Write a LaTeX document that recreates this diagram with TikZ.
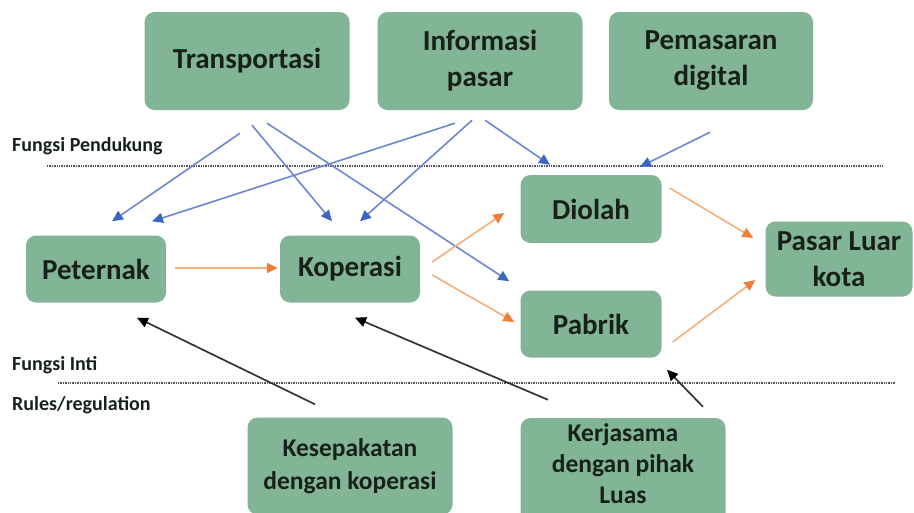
\documentclass[tikz,border=0pt]{standalone}
\usepackage{fontspec}
\setmainfont{Carlito}
\usetikzlibrary{arrows.meta}

\definecolor{boxgreen}{rgb}{0.510000, 0.710000, 0.590000}
\definecolor{boxtext}{rgb}{0.090000, 0.130000, 0.100000}
\definecolor{bluetip}{rgb}{0.230000, 0.400000, 0.770000}
\definecolor{blueline}{rgb}{0.420000, 0.530000, 0.820000}
\definecolor{orangetip}{rgb}{0.930000, 0.500000, 0.220000}
\definecolor{orangeline}{rgb}{0.960000, 0.680000, 0.480000}
\definecolor{sepline}{rgb}{0.330000, 0.330000, 0.330000}

\tikzset{
  box/.style={fill=boxgreen, rounded corners=10pt, text=boxtext, align=center,
    font=\fontsize{29}{36}\selectfont\bfseries, inner sep=0pt},
  topbox/.style={box, minimum width=205pt, minimum height=98pt},
  midbox/.style={box, minimum width=140pt, minimum height=67pt},
  lowbox/.style={box, minimum width=205pt, minimum height=97pt,
    font=\fontsize{25.5}{33}\selectfont\bfseries},
  sidelabel/.style={anchor=west, text=boxtext, font=\fontsize{20}{24}\selectfont\bfseries, inner sep=0pt},
  sepdots/.style={sepline, line width=2.8pt, dash pattern=on 1.4pt off 1pt},
  bluearrow/.style={blueline, line width=1.6pt, -{Triangle[length=11pt, width=10pt, color=bluetip]}},
  orangearrow/.style={orangeline, line width=1.6pt, -{Triangle[length=11pt, width=10pt, color=orangetip]}},
  blackarrow/.style={black!80, line width=1.7pt, -{Triangle[length=11pt, width=10pt, color=black]}}
}

\begin{document}
\begin{tikzpicture}[x=1pt, y=-1pt]
\useasboundingbox (0,0) rectangle (914,512);
\clip (0,0) rectangle (914,512);

% supporting functions
\node[topbox] (transport) at (247,61) {Transportasi};
\node[topbox] (infopasar) at (480,61) {Informasi\\pasar};
\node[topbox, minimum width=204pt] (pemasaran) at (711,61) {Pemasaran\\digital};

% core chain
\node[midbox] (peternak) at (96,269) {Peternak};
\node[midbox] (koperasi) at (350,269) {Koperasi};
\node[midbox, minimum width=141pt, minimum height=68pt] (diolah) at (591,209) {Diolah};
\node[midbox, minimum width=141pt] (pabrik) at (591,324) {Pabrik};
\node[midbox, minimum width=147pt, minimum height=75pt] (pasarluar) at (839,259) {Pasar Luar\\kota};

% rules
\node[lowbox] (kesepakatan) at (350,466) {Kesepakatan\\dengan koperasi};
\node[lowbox, minimum height=110pt, font=\fontsize{25.5}{31}\selectfont\bfseries] (kerjasama) at (623,473) {};
\node[text=boxtext, align=center, inner sep=0pt, font=\fontsize{25.5}{31}\selectfont\bfseries] (kerjatext) at (623,464) {Kerjasama\\dengan pihak\\Luas};

% separators
\node[sidelabel] (lblpendukung) at (12,146) {Fungsi Pendukung};
\node[sidelabel] (lblinti) at (12,365) {Fungsi Inti};
\node[sidelabel] (lblrules) at (12,405) {Rules/regulation};
\coordinate (sepAl) at (47,166);
\coordinate (sepAr) at (883,166);
\coordinate (sepBl) at (58,383);
\coordinate (sepBr) at (895,383);
\draw[sepdots] (sepAl) -- (sepAr);
\draw[sepdots] (sepBl) -- (sepBr);

% blue
\draw[bluearrow] ([shift={(-7,23)}]transport.south) -- ([shift={(16,-14)}]peternak.north);
\draw[bluearrow] ([shift={(5,15)}]transport.south) -- ([shift={(-18,-14)}]koperasi.north);
\draw[bluearrow] ([shift={(20,13)}]transport.south) -- ([shift={(-11,-9)}]pabrik.north west);
\draw[bluearrow] ([shift={(-25,13)}]infopasar.south) -- ([shift={(56,-14)}]peternak.north);
\draw[bluearrow] ([shift={(-8,10)}]infopasar.south) -- ([shift={(10,-14)}]koperasi.north);
\draw[bluearrow] ([shift={(5,10)}]infopasar.south) -- ([shift={(-41,-10)}]diolah.north);
\draw[bluearrow] ([shift={(-1,22)}]pemasaran.south) -- ([shift={(49,-8)}]diolah.north);

% orange
\draw[orangearrow] ([shift={(9,-1)}]peternak.east) -- ([shift={(-2,-1)}]koperasi.west);
\draw[orangearrow] ([shift={(12,-7)}]koperasi.east) -- ([shift={(-16,4)}]diolah.west);
\draw[orangearrow] ([shift={(12,6)}]koperasi.east) -- ([shift={(-6,-2)}]pabrik.west);
\draw[orangearrow] ([shift={(8,-21)}]diolah.east) -- ([shift={(-12,-21)}]pasarluar.west);
\draw[orangearrow] ([shift={(11,18)}]pabrik.east) -- ([shift={(-10,21)}]pasarluar.west);

% black
\draw[blackarrow] ([shift={(-35,-13)}]kesepakatan.north) -- ([shift={(41,15)}]peternak.south);
\draw[blackarrow] ([shift={(-75,-18)}]kerjasama.north) -- ([shift={(5,15)}]koperasi.south);
\draw[blackarrow] ([shift={(80,-11)}]kerjasama.north) -- ([shift={(76,12)}]pabrik.south);
\end{tikzpicture}
\end{document}
